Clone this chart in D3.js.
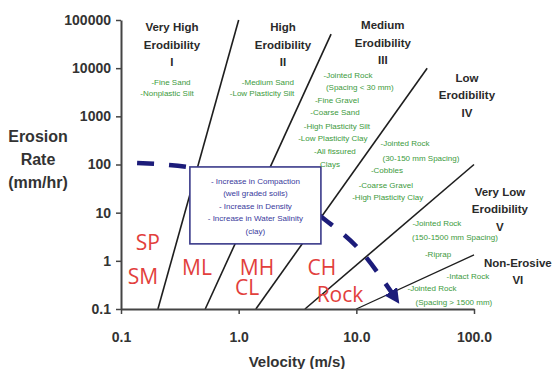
<!DOCTYPE html>
<html>
<head>
<meta charset="utf-8">
<script src="https://cdn.jsdelivr.net/npm/d3@7"></script>
<style>
  html, body { margin: 0; padding: 0; background: #fff; overflow: hidden; }
  svg { display: block; font-family: "Liberation Sans", Arial, sans-serif; }
</style>
</head>
<body>
<svg id="chart"></svg>
<script>
// axis ticks
const xTicks = [0.1, 1, 10, 100];
const xTickLabels = ["0.1", "1.0", "10.0", "100.0"];
const yTicks = [0.1, 1, 10, 100, 1000, 10000, 100000];
const yTickLabels = ["0.1", "1", "10", "100", "1000", "10000", "100000"];

// erodibility boundaries as [velocity m/s, erosion mm/hr] end points
const boundaries = [
	[[0.206, 0.1], [1.0, 100000]],
	[[0.52, 0.1], [6.1, 51000]],
	[[1.4, 0.1], [40, 10000]],
	[[3.66, 0.1], [100, 100]],
	[[10, 0.1], [100, 1.33]]
];

// category headings and where they sit (velocity, erosion)
const zoneNames = [
	["Very High", "Erodibility", "I"],
	["High", "Erodibility", "II"],
	["Medium", "Erodibility", "III"],
	["Low", "Erodibility", "IV"],
	["Very Low", "Erodibility", "V"],
	["Non-Erosive", "VI"]
];
const zoneAnchors = [[0.271, 71600], [2.38, 71600], [16.8, 78700], [87.1, 6270], [166, 27], [236, 0.91]];

// material notes (green)
const noteLines = [
	"-Fine Sand", "-Nonplastic Silt",
	"-Medium Sand", "-Low Plasticity Silt",
	"-Jointed Rock", "(Spacing < 30 mm)", "-Fine Gravel", "-Coarse Sand",
	"-High Plasticity Silt", "-Low Plasticity Clay", "-All fissured", "Clays",
	"-Jointed Rock", "(30-150 mm Spacing)", "-Cobbles", "-Coarse Gravel", "-High Plasticity Clay",
	"-Jointed Rock", "(150-1500 mm Spacing)", "-Riprap",
	"-Intact Rock", "-Jointed Rock", "(Spacing > 1500 mm)"
];
const noteAnchors = [
	[0.266, 5180], [0.246, 3050],
	[1.77, 5180], [1.58, 3050],
	[8.49, 7230], [10.7, 4070], [6.84, 2190], [6.58, 1230],
	[6.84, 632], [6.32, 357], [6.58, 191], [5.97, 103],
	[25.9, 281], [35.4, 137], [18.2, 77.3], [17.8, 37.8], [18.5, 21.3],
	[48.4, 6.14], [68.8, 3.15], [49.5, 1.40],
	[88.7, 0.489], [43.9, 0.275], [67.5, 0.141]
];

// soil classes (red)
const soilLabels = ["SP", "SM", "ML", "MH", "CL", "CH", "Rock"];
const soilAnchors = [[0.169, 2.36], [0.154, 0.466], [0.442, 0.716], [1.43, 0.716], [1.18, 0.275], [5.10, 0.716], [7.26, 0.197]];

// trend arrow
const trend = [[0.137, 108], [0.5, 78], [5.7, 6.5], [10.9, 1.6], [17.5, 0.35], [21.7, 0.163]];

// annotation box
const boxExtent = [[0.385, 89], [5.0, 2.25]];
const boxLines = ["- Increase in Compaction", "(well graded soils)", "- Increase in Density", "- Increase in Water Salinity", "(clay)"];

const W = 553, H = 369;
const margin = { left: 121, top: 20 };
const plotW = 353, plotH = 289;

const svg = d3.select("#chart").attr("width", W).attr("height", H);

const x = d3.scaleLog().domain([0.1, 100]).range([0, plotW]);
const y = d3.scaleLog().domain([0.1, 100000]).range([plotH, 0]);

const g = svg.append("g").attr("transform", `translate(${margin.left},${margin.top})`);

// boundary lines
const line = d3.line().x(d => x(d[0])).y(d => y(d[1]));
g.selectAll(".boundary")
	.data(boundaries)
	.enter().append("path")
	.attr("class", "boundary")
	.attr("d", line)
	.attr("fill", "none")
	.attr("stroke", "#1e1e1e")
	.attr("stroke-width", (d, i) => i === 4 ? 1.3 : 1.6);

// trend arrow
svg.append("defs").append("marker")
	.attr("id", "arrow")
	.attr("markerUnits", "userSpaceOnUse")
	.attr("viewBox", "0 0 10 10")
	.attr("refX", 6).attr("refY", 5)
	.attr("markerWidth", 15).attr("markerHeight", 15)
	.attr("orient", "auto")
	.append("path")
	.attr("d", "M0,0 L10,5 L0,10 Z")
	.attr("fill", "#1c1c7a");

g.append("path")
	.datum(trend)
	.attr("d", d3.line().x(d => x(d[0])).y(d => y(d[1])).curve(d3.curveMonotoneX))
	.attr("fill", "none")
	.attr("stroke", "#1c1c7a")
	.attr("stroke-width", 4.5)
	.attr("stroke-dasharray", "17,15")
	.attr("marker-end", "url(#arrow)");

// box
const bx0 = x(boxExtent[0][0]), by0 = y(boxExtent[0][1]);
const bx1 = x(boxExtent[1][0]), by1 = y(boxExtent[1][1]);
g.append("rect")
	.attr("x", bx0).attr("y", by0)
	.attr("width", bx1 - bx0).attr("height", by1 - by0)
	.attr("fill", "#fff")
	.attr("stroke", "#3a3a8a")
	.attr("stroke-width", 1.6);

g.append("g").selectAll("text")
	.data(boxLines)
	.enter().append("text")
	.attr("x", (bx0 + bx1) / 2)
	.attr("y", (d, i) => by0 + 14 + i * 12.5)
	.attr("dy", "0.35em")
	.attr("text-anchor", "middle")
	.attr("font-size", 8)
	.attr("fill", "#3a3a9c")
	.text(d => d);

// axes
const xAxis = d3.axisBottom(x).tickValues(xTicks).tickFormat((d, i) => xTickLabels[i])
	.tickSize(5).tickSizeOuter(0).tickPadding(18);
const yAxis = d3.axisLeft(y).tickValues(yTicks).tickFormat((d, i) => yTickLabels[i])
	.tickSize(5).tickSizeOuter(0).tickPadding(5);

const gx = g.append("g").attr("transform", `translate(0,${plotH})`).call(xAxis);
const gy = g.append("g").call(yAxis);
[gx, gy].forEach(a => {
	a.select(".domain").attr("stroke", "#444").attr("stroke-width", 2);
	a.selectAll(".tick line").attr("stroke", "#444").attr("stroke-width", 1.5);
	a.selectAll(".tick text")
		.attr("font-family", "Liberation Sans, Arial, sans-serif")
		.attr("font-size", 14).attr("font-weight", "bold").attr("fill", "#333");
});

// axis titles
svg.append("text")
	.attr("x", 297).attr("y", 367)
	.attr("text-anchor", "middle")
	.attr("font-size", 15).attr("font-weight", "bold").attr("fill", "#333")
	.text("Velocity (m/s)");

svg.append("text")
	.attr("x", 38).attr("y", 136)
	.attr("text-anchor", "middle")
	.attr("font-size", 16).attr("font-weight", "bold").attr("fill", "#333")
	.selectAll("tspan")
	.data(["Erosion", "Rate", "(mm/hr)"])
	.enter().append("tspan")
	.attr("x", 38)
	.attr("dy", (d, i) => i === 0 ? "0.35em" : "23")
	.text(d => d);

// zone headings
g.append("g").selectAll("text")
	.data(zoneNames)
	.enter().append("text")
	.attr("text-anchor", "middle")
	.attr("font-size", 11.5).attr("font-weight", "bold").attr("fill", "#2a2a2a")
	.each(function (d, i) {
		const t = d3.select(this);
		const px = x(zoneAnchors[i][0]), py = y(zoneAnchors[i][1]);
		d.forEach((s, j) => {
			t.append("tspan").attr("x", px).attr("y", py + j * 17.5).attr("dy", "0.35em").text(s);
		});
	});

// notes
g.append("g").selectAll("text")
	.data(noteLines)
	.enter().append("text")
	.attr("x", (d, i) => x(noteAnchors[i][0]))
	.attr("y", (d, i) => y(noteAnchors[i][1]))
	.attr("dy", "0.35em")
	.attr("text-anchor", "middle")
	.attr("font-size", 8)
	.attr("fill", "#3c9a3c")
	.text(d => d);

// soil classes
g.append("g").selectAll("text")
	.data(soilLabels)
	.enter().append("text")
	.attr("x", (d, i) => x(soilAnchors[i][0]))
	.attr("y", (d, i) => y(soilAnchors[i][1]))
	.attr("dy", "0.35em")
	.attr("text-anchor", "middle")
	.attr("font-family", "Open Sans, sans-serif")
	.attr("font-size", 21)
	.attr("fill", "#e2403c")
	.text(d => d);
</script>
</body>
</html>
